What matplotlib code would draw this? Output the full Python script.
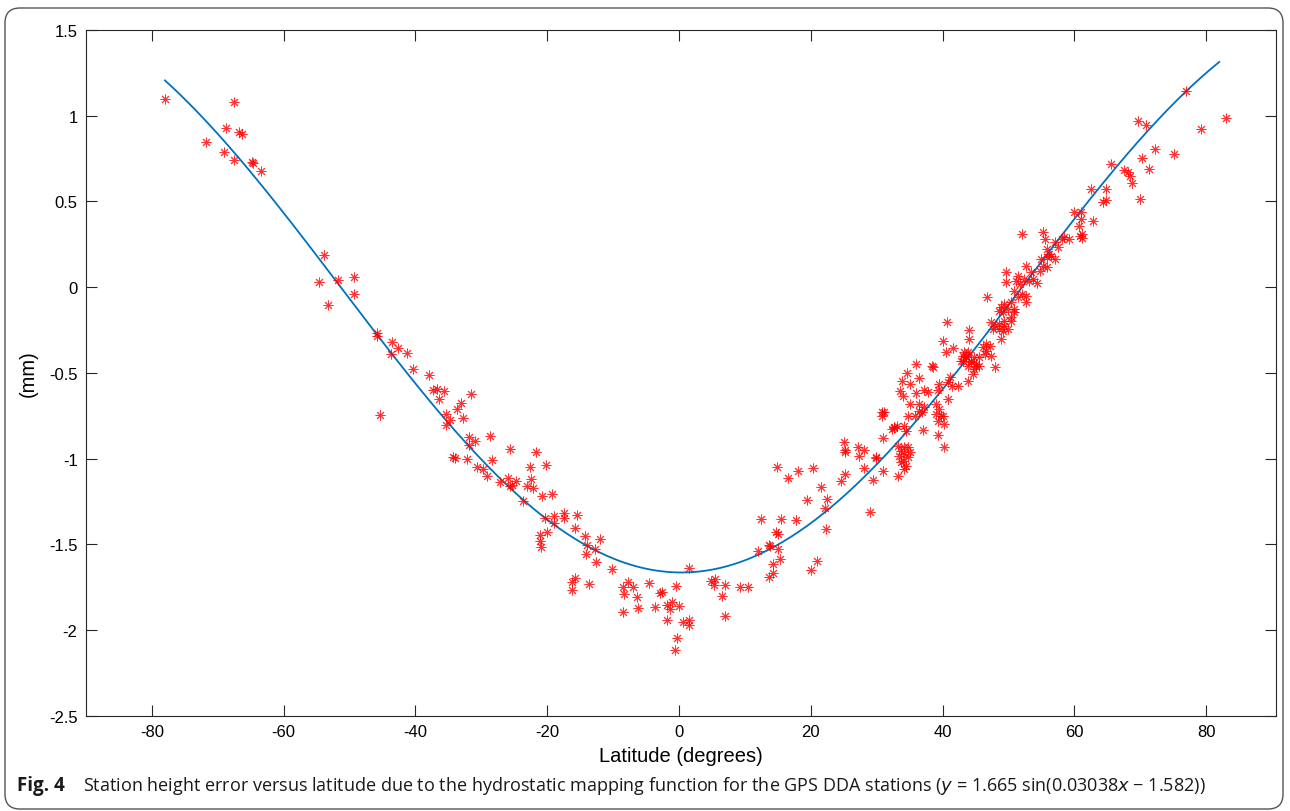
import numpy as np
import matplotlib
matplotlib.use("Agg")
import matplotlib.pyplot as plt
from matplotlib.patches import FancyBboxPatch

plt.rcParams['axes.unicode_minus'] = False

# station latitude (degrees) and height error (mm)
lat_south = [-78.0, -67.6, -68.7, -66.7, -66.3, -71.7, -69.0, -67.6, -64.8, -64.6, -63.4,
             -53.8, -54.6, -51.7, -49.3, -49.3, -53.2, -45.9, -45.8, -43.6, -42.7, -43.7,
             -41.3, -40.3, -37.9, -37.3, -36.7, -35.7, -31.5, -36.4, -33.1, -33.7, -32.8,
             -35.4, -34.8, -35.3, -45.4, -31.8, -31.0, -31.8, -28.7, -25.7, -34.3, -34.0,
             -32.2, -28.3, -30.6, -29.7, -29.1, -27.1, -25.9, -24.8, -25.6]
err_south = [1.10, 1.08, 0.93, 0.905, 0.893, 0.847, 0.788, 0.742, 0.73, 0.725, 0.677,
             0.187, 0.03, 0.041, 0.059, -0.04, -0.104, -0.268, -0.285, -0.32, -0.355, -0.39,
             -0.385, -0.478, -0.513, -0.60, -0.595, -0.606, -0.624, -0.653, -0.676, -0.711, -0.764,
             -0.74, -0.775, -0.805, -0.746, -0.875, -0.898, -0.921, -0.869, -0.945, -0.99, -0.995,
             -1.003, -1.009, -1.05, -1.06, -1.10, -1.137, -1.114, -1.131, -1.16]

lat_equator = [-21.7, -20.2, -22.6, -25.4, -22.5, -23.1, -22.2, -20.8, -19.2, -23.6, -20.3,
               -18.9, -17.5, -17.5, -19.0, -15.4, -20.0, -21.1, -21.1, -21.0, -15.8, -14.3,
               -12.0, -14.0, -12.8, -14.1, -12.6, -10.2, -16.3, -15.8, -16.3, -13.6, -8.5,
               -7.8, -7.0, -8.4, -6.4, -8.5, -6.2,
               -4.6, -2.8, -2.5, -3.7, -0.5, -1.1, -1.8, -1.4, 0.0, -1.8, 0.6, 1.6, 1.5,
               -0.3, -0.6, 1.5, 4.8, 5.4, 5.3, 7.0, 6.5, 9.3, 10.5, 7.0,
               13.6, 14.2, 14.2, 15.3, 12.0, 13.7, 13.8, 15.0, 14.8, 15.0, 12.4, 15.5, 17.8,
               22.3, 21.0, 20.0, 14.9, 16.6, 18.1, 20.4, 21.6, 19.4, 22.5, 22.1, 24.6, 25.2,
               25.0, 25.2, 25.2, 27.2, 28.1, 27.3, 28.1, 29.9, 29.5, 31.0, 29.0, 31.0, 30.8,
               31.1, 30.8, 32.7, 33.1, 33.3]
err_equator = [-0.962, -1.038, -1.05, -1.155, -1.12, -1.16, -1.17, -1.219, -1.207, -1.248, -1.347,
               -1.335, -1.318, -1.347, -1.376, -1.33, -1.429, -1.446, -1.481, -1.516, -1.405, -1.452,
               -1.47, -1.505, -1.528, -1.557, -1.604, -1.645, -1.72, -1.70, -1.767, -1.732, -1.75,
               -1.72, -1.75, -1.79, -1.808, -1.896, -1.872,
               -1.726, -1.785, -1.78, -1.866, -1.744, -1.837, -1.855, -1.878, -1.86, -1.942, -1.954,
               -1.942, -1.971, -2.047, -2.117, -1.639, -1.715, -1.703, -1.738, -1.738, -1.802, -1.75,
               -1.75, -1.919,
               -1.691, -1.668, -1.615, -1.586, -1.54, -1.505, -1.51, -1.528, -1.429, -1.44, -1.353,
               -1.353, -1.359, -1.411, -1.598, -1.65, -1.05, -1.114, -1.073, -1.055, -1.166, -1.242,
               -1.236, -1.289, -1.131, -1.09, -0.904, -0.95, -0.962, -0.933, -0.95, -0.985, -1.055,
               -0.997, -1.125, -1.073, -1.312, -0.88, -0.729, -0.729, -0.752, -0.822, -0.81, -1.102]

lat_north = [40.7, 44.0, 44.0, 40.0, 40.5, 41.6, 42.8, 43.5, 44.3, 45.1, 43.9, 35.9, 38.4, 38.6,
             34.6, 36.4, 33.9, 35.0, 41.2, 40.9, 41.5, 42.3, 39.5, 33.6, 34.0, 36.0, 37.2, 37.8,
             39.3, 40.9, 35.0, 36.4, 37.2, 36.4, 35.8, 36.9, 34.8, 39.0, 39.5, 39.0, 39.8, 39.3,
             40.2, 40.0, 32.6, 32.3, 34.2, 34.4, 37.0, 39.3, 40.2, 33.3, 33.7, 34.2, 34.8, 34.2,
             33.4, 34.8, 34.0, 34.4, 35.0, 33.7, 34.2, 29.9,
             52.1, 55.3, 55.5, 55.8, 56.2, 57.0, 57.6, 58.1, 58.5, 59.2, 60.8, 55.0, 55.8, 56.5,
             57.0, 55.3, 55.9, 54.8, 52.6, 53.5, 54.4, 53.8, 53.1, 52.3, 51.7, 51.2, 51.5, 49.7,
             49.7, 52.6, 52.6, 52.0, 50.9, 51.4, 46.8, 50.4, 49.4, 50.0, 50.8, 48.9, 49.2, 50.9,
             48.5, 50.4, 47.4, 47.9, 48.6, 49.4, 47.7, 48.5, 49.2, 50.0, 49.4, 50.4, 48.9, 46.6,
             46.1, 47.2, 46.4, 47.3, 46.6, 45.6, 44.8, 43.3, 43.6, 43.1, 44.3, 43.9, 45.1, 44.8,
             45.6, 44.6, 43.9, 48.0, 43.1,
             77.0, 83.0, 79.3, 69.7, 70.9, 72.2, 75.2, 70.2, 71.3, 65.5, 67.6, 68.2, 68.4, 68.8,
             69.9, 62.5, 64.8, 64.3, 64.8, 59.9, 61.0, 60.7, 61.0, 62.9, 61.2, 61.2]
err_north = [-0.204, -0.25, -0.303, -0.314, -0.379, -0.355, -0.431, -0.402, -0.431, -0.46, -0.379,
             -0.449, -0.46, -0.466, -0.501, -0.53, -0.548, -0.565, -0.524, -0.554, -0.577, -0.577,
             -0.565, -0.606, -0.635, -0.618, -0.60, -0.612, -0.60, -0.653, -0.682, -0.682, -0.70,
             -0.723, -0.752, -0.729, -0.752, -0.682, -0.711, -0.74, -0.752, -0.781, -0.799, -0.752,
             -0.816, -0.828, -0.81, -0.84, -0.834, -0.863, -0.933, -0.927, -0.956, -0.933, -0.933,
             -0.974, -0.985, -0.991, -1.015, -1.044, -0.962, -1.02, -1.061, -0.991,
             0.31, 0.32, 0.28, 0.222, 0.193, 0.263, 0.234, 0.28, 0.292, 0.28, 0.298, 0.164, 0.176,
             0.181, 0.164, 0.123, 0.117, 0.094, 0.123, 0.088, 0.024, 0.047, 0.036, 0.047, 0.018,
             0.036, 0.065, 0.088, 0.03, -0.052, -0.087, -0.04, -0.023, -0.058, -0.058, -0.087,
             -0.099, -0.128, -0.128, -0.116, -0.145, -0.145, -0.14, -0.174, -0.204, -0.227, -0.215,
             -0.227, -0.245, -0.245, -0.256, -0.245, -0.198, -0.198, -0.303, -0.332, -0.35, -0.344,
             -0.39, -0.402, -0.373, -0.408, -0.408, -0.379, -0.408, -0.431, -0.437, -0.46, -0.449,
             -0.478, -0.46, -0.507, -0.548, -0.466, -0.402,
             1.144, 0.987, 0.922, 0.969, 0.946, 0.806, 0.777, 0.753, 0.689, 0.718, 0.683, 0.672,
             0.648, 0.607, 0.514, 0.572, 0.572, 0.497, 0.508, 0.438, 0.438, 0.356, 0.397, 0.386,
             0.31, 0.287]

# fitted curve from the caption: y = A sin(B x + C)
fit_A, fit_B, fit_C = 1.665, 0.03038, -1.582
fit_range = (-78, 82)

lat = lat_south + lat_equator + lat_north
err = err_south + err_equator + err_north

fig = plt.figure(figsize=(12.9, 8.12), dpi=100)
ax = fig.add_axes([0.0666, 0.1175, 0.9225, 0.8443])

xf = np.linspace(fit_range[0], fit_range[1], 400)
ax.plot(xf, fit_A * np.sin(fit_B * xf + fit_C), color='#0072BD', lw=1.3, zorder=2)
ax.plot(lat, err, linestyle='none', marker=(8, 2, 0), markersize=7,
        markeredgewidth=0.7, color='#FF0000', alpha=0.8, zorder=3)

ax.set_xlim(-90, 90.6)
ax.set_ylim(-2.5, 1.5)
ax.set_xticks(range(-80, 81, 20))
ax.set_yticks(np.arange(-2.5, 1.51, 0.5))
ax.set_yticklabels(['-2.5', '-2', '-1.5', '-1', '-0.5', '0', '0.5', '1', '1.5'])
ax.tick_params(direction='in', length=8, width=0.8, top=True, right=True,
               labelsize=12, colors='#262626', pad=6)
for lbl in ax.get_xticklabels() + ax.get_yticklabels():
    lbl.set_family('Liberation Sans')
    lbl.set_color('black')
for s in ax.spines.values():
    s.set_linewidth(0.8)
    s.set_color('#262626')

ax.set_xlabel('Latitude (degrees)', fontsize=14.5, family='Liberation Sans', labelpad=5)
ax.set_ylabel('(mm)', fontsize=14.5, family='Liberation Sans', labelpad=8)

# caption
fig.text(17 / 1290, 1 - 786 / 812, 'Fig. 4', fontsize=13.5, fontweight='bold',
         family='Open Sans', color='#1a1a1a', va='center', ha='left')
fig.text(83 / 1290, 1 - 786 / 812,
         'Station height error versus latitude due to the hydrostatic mapping function '
         'for the GPS DDA stations ($y$ = 1.665 sin(0.03038$x$ \u2212 1.582))',
         fontsize=13, family='Open Sans', color='#1a1a1a', va='center', ha='left')

# rounded frame around the figure
frame = FancyBboxPatch((0.05, 0.02), 12.78, 8.01,
                       boxstyle='round,pad=0,rounding_size=0.15',
                       transform=fig.dpi_scale_trans, fill=False,
                       edgecolor='#555555', linewidth=1.0)
fig.patches.append(frame)

fig.savefig('out.png', dpi=100)
